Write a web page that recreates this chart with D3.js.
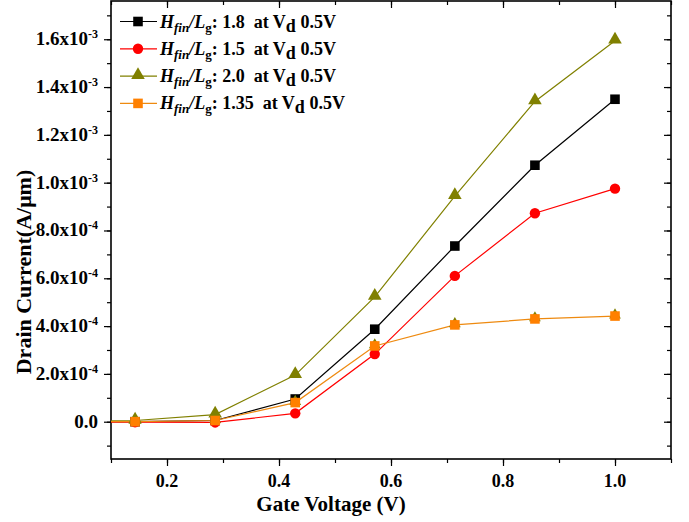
<!DOCTYPE html>
<html>
<head>
<meta charset="utf-8">
<script src="https://cdn.jsdelivr.net/npm/d3@7"></script>
<style>
  body { margin: 0; background: #fff; }
  svg { display: block; }
</style>
</head>
<body>
<div id="chart"></div>
<script>
// data
const gateV = [0, 0.143, 0.286, 0.429, 0.571, 0.714, 0.857, 1.0];
const ratio18 = [0, 0, 0.05e-4, 0.95e-4, 3.87e-4, 7.35e-4, 10.73e-4, 13.49e-4];
const ratio15 = [0, -0.02e-4, -0.03e-4, 0.35e-4, 2.83e-4, 6.1e-4, 8.72e-4, 9.75e-4];
const ratio20 = [0, 0.05e-4, 0.3e-4, 1.95e-4, 5.22e-4, 9.44e-4, 13.4e-4, 15.94e-4];
const ratio135 = [0, 0, 0.05e-4, 0.8e-4, 3.17e-4, 4.05e-4, 4.3e-4, 4.42e-4];
const legendRatios = ['1.8', '1.5', '2.0', '1.35'];
const xTicks = [0.2, 0.4, 0.6, 0.8, 1.0];
const yTicks = [0, 2e-4, 4e-4, 6e-4, 8e-4, 1e-3, 1.2e-3, 1.4e-3, 1.6e-3];
const yTickMant = ['0.0', '2.0', '4.0', '6.0', '8.0', '1.0', '1.2', '1.4', '1.6'];
const yTickExp = [null, '-4', '-4', '-4', '-4', '-3', '-3', '-3', '-3'];

(function () {
    const width = 689, height = 522;
    const left = 111, right = 671, top = 1, bottom = 459;

    const svg = d3.select('#chart').append('svg').attr('width', width).attr('height', height)
        .attr('font-family', '"Liberation Serif", "Times New Roman", serif')
        .attr('font-weight', 'bold');

    svg.append('clipPath').attr('id', 'plotclip').append('rect')
        .attr('x', left).attr('y', top).attr('width', right - left).attr('height', bottom - top);

    const xScale = d3.scaleLinear().domain([0.1, 1.1]).range([left, right]);
    const yScale = d3.scaleLinear().domain([-1.56e-4, 1.76e-3]).range([bottom, top]);

    const xMinor = d3.range(0.1, 1.1001, 0.1).map(d => +d.toFixed(2));
    const yMinor = d3.range(-1e-4, 1.75e-3, 1e-4).map(d => +d.toExponential(3));

    // axes (ticks outward on left/bottom, inward on right/top)
    function tickStyle(g) {
        g.select('.domain').remove();
        g.selectAll('line').attr('stroke', '#000').attr('stroke-width', 1.2);
        g.selectAll('text').remove();
    }
    svg.append('g').attr('transform', `translate(0,${bottom})`)
        .call(d3.axisBottom(xScale).tickValues(xMinor).tickSize(4)).call(tickStyle);
    svg.append('g').attr('transform', `translate(0,${bottom})`)
        .call(d3.axisBottom(xScale).tickValues(xTicks).tickSize(7)).call(tickStyle);
    svg.append('g').attr('transform', `translate(0,${top})`)
        .call(d3.axisBottom(xScale).tickValues(xMinor).tickSize(4)).call(tickStyle);
    svg.append('g').attr('transform', `translate(0,${top})`)
        .call(d3.axisBottom(xScale).tickValues(xTicks).tickSize(7)).call(tickStyle);
    svg.append('g').attr('transform', `translate(${left},0)`)
        .call(d3.axisLeft(yScale).tickValues(yMinor).tickSize(4)).call(tickStyle);
    svg.append('g').attr('transform', `translate(${left},0)`)
        .call(d3.axisLeft(yScale).tickValues(yTicks).tickSize(7)).call(tickStyle);
    svg.append('g').attr('transform', `translate(${right},0)`)
        .call(d3.axisLeft(yScale).tickValues(yMinor).tickSize(4)).call(tickStyle);
    svg.append('g').attr('transform', `translate(${right},0)`)
        .call(d3.axisLeft(yScale).tickValues(yTicks).tickSize(7)).call(tickStyle);

    svg.append('rect').attr('x', left).attr('y', top)
        .attr('width', right - left).attr('height', bottom - top)
        .attr('fill', 'none').attr('stroke', '#000').attr('stroke-width', 1.6);

    // tick labels
    svg.append('g').selectAll('text').data(xTicks).enter().append('text')
        .attr('x', d => xScale(d)).attr('y', bottom + 28)
        .attr('text-anchor', 'middle').attr('font-size', 18)
        .text(d => d.toFixed(1));

    const yl = svg.append('g').selectAll('text').data(yTicks).enter().append('text')
        .attr('x', left - 13).attr('y', d => yScale(d) + 6)
        .attr('text-anchor', 'end').attr('font-size', 19);
    yl.each(function (d, i) {
        const t = d3.select(this);
        if (yTickExp[i] === null) {
            t.text(yTickMant[i]);
        } else {
            t.append('tspan').text(yTickMant[i] + 'x10');
            t.append('tspan').attr('dy', -7).attr('font-size', 12).text(yTickExp[i]);
        }
    });

    // axis titles
    svg.append('text').attr('x', 331).attr('y', 511)
        .attr('text-anchor', 'middle').attr('font-size', 21)
        .text('Gate Voltage (V)');
    svg.append('text').attr('transform', 'translate(31,272) rotate(-90)')
        .attr('text-anchor', 'middle').attr('font-size', 22)
        .text('Drain Current(A/\u03bcm)');

    // series
    const series = [
        { values: ratio18, color: '#000000', line: '#000000', shape: 'square' },
        { values: ratio15, color: '#ff0000', line: '#ff0000', shape: 'circle' },
        { values: ratio20, color: '#808000', line: '#808000', shape: 'triangle' },
        { values: ratio135, color: '#808000', line: null, shape: 'smalltri' },
        { values: ratio135, color: '#ff8000', line: '#ee8a10', shape: 'square' }
    ];

    const symbolOf = {
        square: d3.symbol().type(d3.symbolSquare).size(92),
        circle: d3.symbol().type(d3.symbolCircle).size(85),
        triangle: d3.symbol().type(d3.symbolTriangle).size(80),
        smalltri: d3.symbol().type(d3.symbolTriangle).size(60)
    };

    const line = d3.line().x((d, i) => xScale(gateV[i])).y(d => yScale(d));
    const plot = svg.append('g').attr('clip-path', 'url(#plotclip)');

    series.forEach(s => {
        if (s.line) {
            plot.append('path').datum(s.values).attr('d', line)
                .attr('fill', 'none').attr('stroke', s.line).attr('stroke-width', 1.2);
        }
    });
    series.forEach(s => {
        const off = s.shape === 'triangle' || s.shape === 'smalltri' ? -1 : 0;
        plot.append('g').selectAll('path').data(s.values).enter().append('path')
            .attr('d', symbolOf[s.shape])
            .attr('transform', (d, i) => `translate(${xScale(gateV[i])},${yScale(d) + off})`)
            .attr('fill', s.color);
    });

    // legend
    const legendSeries = [series[0], series[1], series[2], series[4]];
    const lg = svg.append('g');
    legendSeries.forEach((s, i) => {
        const y = 21.5 + i * 27.3;
        lg.append('line').attr('x1', 120).attr('x2', 157).attr('y1', y).attr('y2', y)
            .attr('stroke', s.line).attr('stroke-width', 1.2);
        lg.append('path').attr('d', symbolOf[s.shape])
            .attr('transform', `translate(138,${y + (s.shape === 'triangle' ? -1 : 0)})`)
            .attr('fill', s.color);
        const t = lg.append('text').attr('x', 160).attr('y', y + 6).attr('font-size', 18);
        t.append('tspan').attr('font-style', 'italic').text('H');
        t.append('tspan').attr('font-style', 'italic').attr('font-size', 13).attr('dy', 4).text('fin');
        t.append('tspan').attr('font-style', 'italic').attr('dy', -4).text('/L');
        t.append('tspan').attr('font-size', 13).attr('dy', 4).text('g');
        t.append('tspan').attr('dy', -4).text(': ' + legendRatios[i] + '\u00a0 at V');
        t.append('tspan').attr('dy', 4).attr('font-size', 18).text('d');
        t.append('tspan').attr('dy', -4).text(' 0.5V');
    });
})();
</script>
</body>
</html>
